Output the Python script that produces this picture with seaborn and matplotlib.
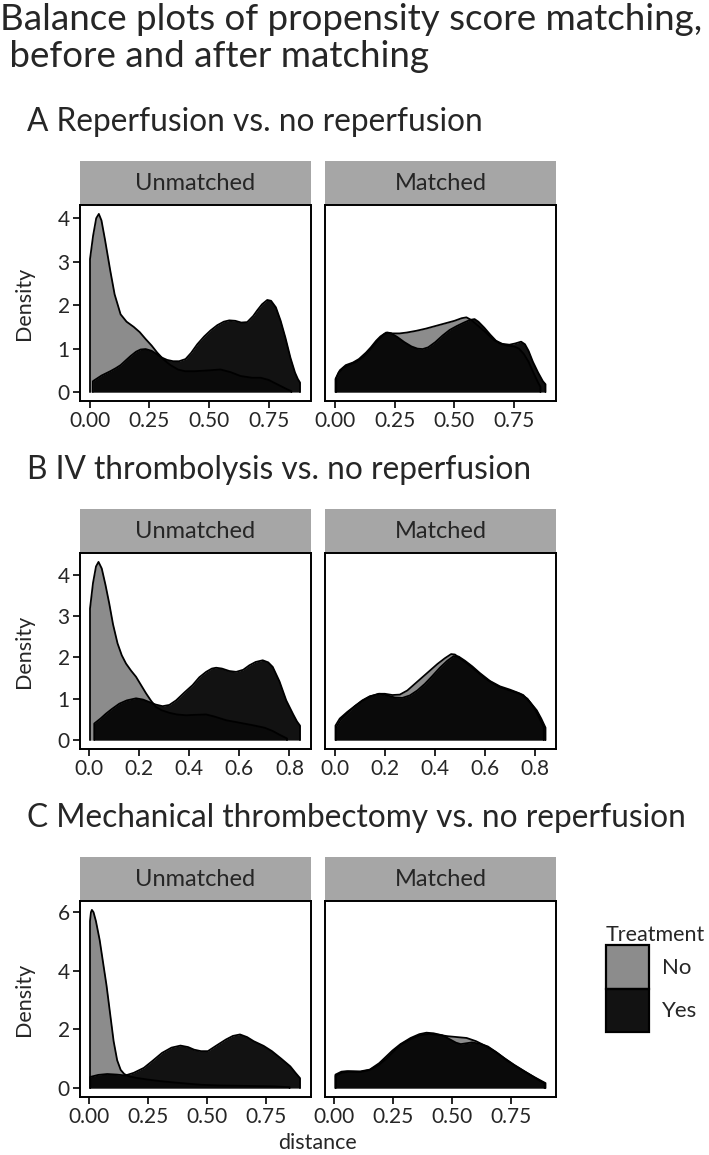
import numpy as np
import pandas as pd
import seaborn as sns
import matplotlib.pyplot as plt
from matplotlib.patches import Patch


# figure size in pixels (dpi 100)
W, H = 709, 1155

TITLE = "Balance plots of propensity score matching,\n before and after matching"
ROW_TITLES = [
    "A Reperfusion vs. no reperfusion",
    "B IV thrombolysis vs. no reperfusion",
    "C Mechanical thrombectomy vs. no reperfusion",
]
FACETS = ["Unmatched", "Matched"]
GROUPS = ["No", "Yes"]

X_TICKS = [[0, 0.25, 0.5, 0.75], [0, 0.2, 0.4, 0.6, 0.8], [0, 0.25, 0.5, 0.75]]
X_TICK_LABELS = [["0.00", "0.25", "0.50", "0.75"],
                 ["0.0", "0.2", "0.4", "0.6", "0.8"],
                 ["0.00", "0.25", "0.50", "0.75"]]
Y_TICKS = [[0, 1, 2, 3, 4], [0, 1, 2, 3, 4], [0, 2, 4, 6]]

# --- A: reperfusion vs. no reperfusion -------------------------------------
a_unm_no_x = [0.002, 0.015, 0.028, 0.039, 0.05, 0.065, 0.087, 0.105, 0.13, 0.155, 0.185, 0.21,
              0.235, 0.26, 0.283, 0.31, 0.339, 0.37, 0.40, 0.44, 0.50, 0.548, 0.59, 0.632, 0.68,
              0.716, 0.75, 0.771, 0.80, 0.825, 0.845]
a_unm_no_y = [3.06, 3.6, 4.0, 4.10, 3.95, 3.5, 2.79, 2.25, 1.79, 1.62, 1.50, 1.38,
              1.22, 1.07, 0.91, 0.75, 0.62, 0.52, 0.48, 0.48, 0.50, 0.52, 0.46, 0.37, 0.33,
              0.33, 0.28, 0.22, 0.14, 0.07, 0.02]
a_unm_yes_x = [0.014, 0.05, 0.087, 0.11, 0.13, 0.15, 0.172, 0.195, 0.214, 0.235, 0.26, 0.283,
               0.30, 0.325, 0.35, 0.375, 0.402, 0.425, 0.451, 0.48, 0.507, 0.535, 0.562, 0.585,
               0.61, 0.635, 0.66, 0.685, 0.702, 0.722, 0.744, 0.76, 0.78, 0.80, 0.82, 0.841,
               0.86, 0.872, 0.881]
a_unm_yes_y = [0.25, 0.38, 0.48, 0.55, 0.62, 0.72, 0.83, 0.93, 0.98, 0.99, 0.95, 0.87,
               0.80, 0.74, 0.71, 0.71, 0.76, 0.90, 1.10, 1.28, 1.42, 1.54, 1.62, 1.65,
               1.64, 1.60, 1.61, 1.75, 1.88, 2.02, 2.12, 2.10, 1.95, 1.64, 1.25, 0.79,
               0.45, 0.30, 0.22]
a_mat_no_x = [0.002, 0.015, 0.035, 0.06, 0.09, 0.12, 0.15, 0.18, 0.205, 0.22, 0.24, 0.27, 0.30,
              0.34, 0.38, 0.42, 0.46, 0.50, 0.53, 0.55, 0.57, 0.60, 0.63, 0.66, 0.69, 0.72,
              0.75, 0.77, 0.79, 0.81, 0.83, 0.85, 0.86]
a_mat_no_y = [0.30, 0.45, 0.56, 0.63, 0.70, 0.82, 1.00, 1.20, 1.33, 1.37, 1.35, 1.35, 1.37,
              1.41, 1.46, 1.52, 1.58, 1.64, 1.70, 1.72, 1.66, 1.52, 1.38, 1.22, 1.12, 1.07,
              1.05, 1.00, 0.88, 0.70, 0.45, 0.22, 0.12]
a_mat_yes_x = [0.005, 0.02, 0.045, 0.075, 0.10, 0.13, 0.15, 0.172, 0.19, 0.214, 0.235, 0.26,
               0.29, 0.32, 0.345, 0.367, 0.39, 0.42, 0.45, 0.48, 0.51, 0.54, 0.565, 0.584,
               0.60, 0.625, 0.65, 0.674, 0.70, 0.73, 0.755, 0.779, 0.795, 0.81, 0.828, 0.85,
               0.87, 0.881]
a_mat_yes_y = [0.32, 0.50, 0.62, 0.68, 0.76, 0.91, 1.03, 1.18, 1.28, 1.37, 1.35, 1.27,
               1.15, 1.05, 1.00, 0.99, 1.03, 1.15, 1.30, 1.43, 1.52, 1.60, 1.66, 1.68,
               1.62, 1.48, 1.32, 1.18, 1.11, 1.09, 1.12, 1.16, 1.10, 0.95, 0.70, 0.45,
               0.25, 0.18]

# --- B: IV thrombolysis vs. no reperfusion -----------------------------------
b_unm_no_x = [0.003, 0.015, 0.027, 0.037, 0.05, 0.065, 0.08, 0.095, 0.113, 0.13, 0.147, 0.167,
              0.187, 0.207, 0.227, 0.247, 0.267, 0.29, 0.32, 0.35, 0.387, 0.42, 0.467, 0.50,
              0.547, 0.60, 0.653, 0.70, 0.733, 0.76, 0.79]
b_unm_no_y = [3.18, 3.8, 4.2, 4.31, 4.15, 3.75, 3.3, 2.8, 2.34, 2.05, 1.85, 1.68,
              1.53, 1.33, 1.13, 0.95, 0.80, 0.72, 0.66, 0.62, 0.60, 0.61, 0.62, 0.57,
              0.48, 0.42, 0.36, 0.30, 0.22, 0.13, 0.04]
b_unm_yes_x = [0.02, 0.045, 0.067, 0.09, 0.12, 0.15, 0.187, 0.215, 0.24, 0.265, 0.293, 0.32,
               0.347, 0.38, 0.413, 0.44, 0.467, 0.49, 0.507, 0.53, 0.56, 0.587, 0.615, 0.64,
               0.665, 0.693, 0.715, 0.733, 0.76, 0.787, 0.815, 0.83, 0.842]
b_unm_yes_y = [0.40, 0.52, 0.64, 0.75, 0.88, 0.96, 1.01, 0.98, 0.92, 0.86, 0.82, 0.85,
               0.96, 1.15, 1.33, 1.52, 1.65, 1.73, 1.75, 1.73, 1.67, 1.65, 1.70, 1.81,
               1.89, 1.93, 1.88, 1.77, 1.42, 0.96, 0.62, 0.45, 0.35]
b_mat_no_x = [0.003, 0.02, 0.05, 0.08, 0.11, 0.14, 0.175, 0.20, 0.23, 0.26, 0.29, 0.32, 0.35,
              0.38, 0.41, 0.44, 0.465, 0.48, 0.50, 0.53, 0.56, 0.60, 0.63, 0.66, 0.70, 0.74,
              0.77, 0.80, 0.82, 0.835]
b_mat_no_y = [0.35, 0.52, 0.68, 0.82, 0.95, 1.05, 1.12, 1.12, 1.09, 1.10, 1.20, 1.36, 1.52,
              1.68, 1.84, 1.98, 2.08, 2.07, 1.98, 1.85, 1.70, 1.50, 1.38, 1.28, 1.20, 1.12,
              1.00, 0.75, 0.50, 0.32]
b_mat_yes_x = [0.005, 0.025, 0.05, 0.08, 0.11, 0.14, 0.18, 0.21, 0.24, 0.27, 0.30, 0.33, 0.36,
               0.39, 0.42, 0.45, 0.475, 0.495, 0.52, 0.55, 0.58, 0.62, 0.66, 0.70, 0.73,
               0.753, 0.78, 0.807, 0.825, 0.842]
b_mat_yes_y = [0.30, 0.50, 0.65, 0.82, 0.96, 1.06, 1.12, 1.08, 1.03, 1.02, 1.08, 1.20, 1.36,
               1.55, 1.75, 1.92, 2.03, 2.02, 1.92, 1.78, 1.62, 1.43, 1.30, 1.22, 1.15,
               1.09, 0.92, 0.72, 0.52, 0.30]

# --- C: mechanical thrombectomy vs. no reperfusion ---------------------------
c_unm_no_x = [0.005, 0.009, 0.013, 0.02, 0.03, 0.046, 0.06, 0.075, 0.09, 0.105, 0.12, 0.135,
              0.15, 0.17, 0.20, 0.25, 0.30, 0.35, 0.42, 0.48, 0.55, 0.63, 0.70, 0.78, 0.85]
c_unm_no_y = [5.7, 6.0, 6.08, 6.0, 5.7, 5.05, 4.3, 3.5, 2.55, 1.6, 0.95, 0.62,
              0.48, 0.40, 0.35, 0.29, 0.24, 0.20, 0.15, 0.11, 0.09, 0.08, 0.07, 0.06, 0.03]
c_unm_yes_x = [0.006, 0.04, 0.078, 0.12, 0.155, 0.19, 0.233, 0.27, 0.31, 0.35, 0.388, 0.42,
               0.446, 0.475, 0.504, 0.54, 0.581, 0.61, 0.64, 0.67, 0.698, 0.74, 0.775, 0.815,
               0.853, 0.875, 0.894]
c_unm_yes_y = [0.38, 0.45, 0.48, 0.46, 0.43, 0.52, 0.69, 0.93, 1.20, 1.38, 1.45, 1.40,
               1.31, 1.26, 1.26, 1.45, 1.66, 1.78, 1.83, 1.74, 1.60, 1.44, 1.26, 1.00,
               0.74, 0.52, 0.34]
c_mat_no_x = [0.005, 0.03, 0.06, 0.11, 0.15, 0.19, 0.22, 0.25, 0.28, 0.32, 0.36, 0.40, 0.44,
              0.48, 0.52, 0.56, 0.60, 0.64, 0.68, 0.72, 0.76, 0.80, 0.84, 0.87, 0.89]
c_mat_no_y = [0.42, 0.52, 0.56, 0.55, 0.62, 0.80, 1.00, 1.25, 1.48, 1.66, 1.80, 1.85, 1.82,
              1.77, 1.74, 1.71, 1.60, 1.44, 1.25, 1.02, 0.80, 0.60, 0.40, 0.25, 0.16]
c_mat_yes_x = [0.005, 0.03, 0.054, 0.11, 0.15, 0.19, 0.22, 0.246, 0.28, 0.323, 0.36, 0.39,
               0.42, 0.458, 0.49, 0.515, 0.535, 0.56, 0.583, 0.62, 0.65, 0.69, 0.727, 0.765,
               0.804, 0.85, 0.894]
c_mat_yes_y = [0.46, 0.56, 0.58, 0.57, 0.63, 0.85, 1.08, 1.28, 1.50, 1.71, 1.84, 1.89,
               1.87, 1.80, 1.66, 1.55, 1.50, 1.53, 1.56, 1.50, 1.42, 1.20, 0.97, 0.76,
               0.57, 0.36, 0.17]

CURVES = [
    [[(a_unm_no_x, a_unm_no_y), (a_unm_yes_x, a_unm_yes_y)],
     [(a_mat_no_x, a_mat_no_y), (a_mat_yes_x, a_mat_yes_y)]],
    [[(b_unm_no_x, b_unm_no_y), (b_unm_yes_x, b_unm_yes_y)],
     [(b_mat_no_x, b_mat_no_y), (b_mat_yes_x, b_mat_yes_y)]],
    [[(c_unm_no_x, c_unm_no_y), (c_unm_yes_x, c_unm_yes_y)],
     [(c_mat_no_x, c_mat_no_y), (c_mat_yes_x, c_mat_yes_y)]],
]

NO_FILL = "#8c8c8c"
YES_FILL = (0, 0, 0, 0.93)
STRIP_FILL = "#a6a6a6"

sns.set_theme(style="white")
plt.rcParams["font.family"] = ["Lato", "DejaVu Sans"]
plt.rcParams["axes.edgecolor"] = "black"


def box(left, top, width, height):
    """Pixel box (from top-left) -> figure fraction rect."""
    return [left / W, 1 - (top + height) / H, width / W, height / H]


fig = plt.figure(figsize=(W / 100, H / 100), dpi=100)

fig.text(0.0, 1 - 3 / H, TITLE, ha="left", va="top", fontsize=26.5, linespacing=1.15)

row_tops = [161, 509, 857]
panel_lefts = [79.5, 325]
strip_h, panel_h, panel_w = 44, 196, 231

for r, top in enumerate(row_tops):
    fig.text(27 / W, 1 - (top - 39) / H, ROW_TITLES[r], ha="left", va="center", fontsize=22.8)

    xs = [v for facet in CURVES[r] for curve in facet for v in curve[0]]
    ys = [v for facet in CURVES[r] for curve in facet for v in curve[1]]
    x_lo, x_hi = min(xs), max(xs)
    x_pad = 0.05 * (x_hi - x_lo)
    y_hi = max(ys)

    for c, facet in enumerate(FACETS):
        left = panel_lefts[c]
        strip = fig.add_axes(box(left, top, panel_w, strip_h))
        strip.set_facecolor(STRIP_FILL)
        strip.set_xticks([])
        strip.set_yticks([])
        for s in strip.spines.values():
            s.set_visible(False)
        strip.text(0.5, 0.5, facet, ha="center", va="center", fontsize=17,
                   transform=strip.transAxes)

        ax = fig.add_axes(box(left, top + strip_h, panel_w, panel_h))
        ax.set_facecolor("white")
        for g, (cx, cy) in enumerate(CURVES[r][c]):
            fill = NO_FILL if g == 0 else YES_FILL
            ax.fill_between(cx, cy, 0, color=fill, lw=0)
            outline = pd.DataFrame({"x": [cx[0]] + cx + [cx[-1]],
                                    "y": [0] + cy + [0]})
            sns.lineplot(data=outline, x="x", y="y", sort=False, estimator=None,
                         color="black", lw=1.3, ax=ax)

        ax.set_xlim(x_lo - x_pad, x_hi + x_pad)
        ax.set_ylim(-0.05 * y_hi, 1.05 * y_hi)
        ax.set_xticks(X_TICKS[r])
        ax.set_xticklabels(X_TICK_LABELS[r])
        ax.set_yticks(Y_TICKS[r])
        ax.set_xlabel("")
        ax.set_ylabel("")
        ax.tick_params(axis="both", direction="out", length=5, width=1.2, color="black",
                       labelsize=15, pad=2, bottom=True, left=(c == 0),
                       labelleft=(c == 0))
        ax.grid(False)
        for s in ax.spines.values():
            s.set_visible(True)
            s.set_color("black")
            s.set_linewidth(1.4)

    fig.text(24 / W, 1 - (top + strip_h + panel_h / 2) / H, "Density", rotation=90,
             ha="center", va="center", fontsize=15.5)

fig.text((79.5 + 556) / 2 / W, 1 - 1143 / H, "distance", ha="center", va="center",
         fontsize=15.5)

handles = [Patch(facecolor=NO_FILL, edgecolor="black", lw=1.6),
           Patch(facecolor=YES_FILL, edgecolor="black", lw=1.6)]
fig.legend(handles, GROUPS, title="Treatment", loc="upper left",
           bbox_to_anchor=(606 / W, 1 - 925 / H), frameon=False, fontsize=16,
           title_fontsize=15.5, handlelength=1.95, handleheight=2.65, labelspacing=0.0,
           handletextpad=0.55, borderpad=0, borderaxespad=0, alignment="left")

fig.savefig("out.png", dpi=100)
